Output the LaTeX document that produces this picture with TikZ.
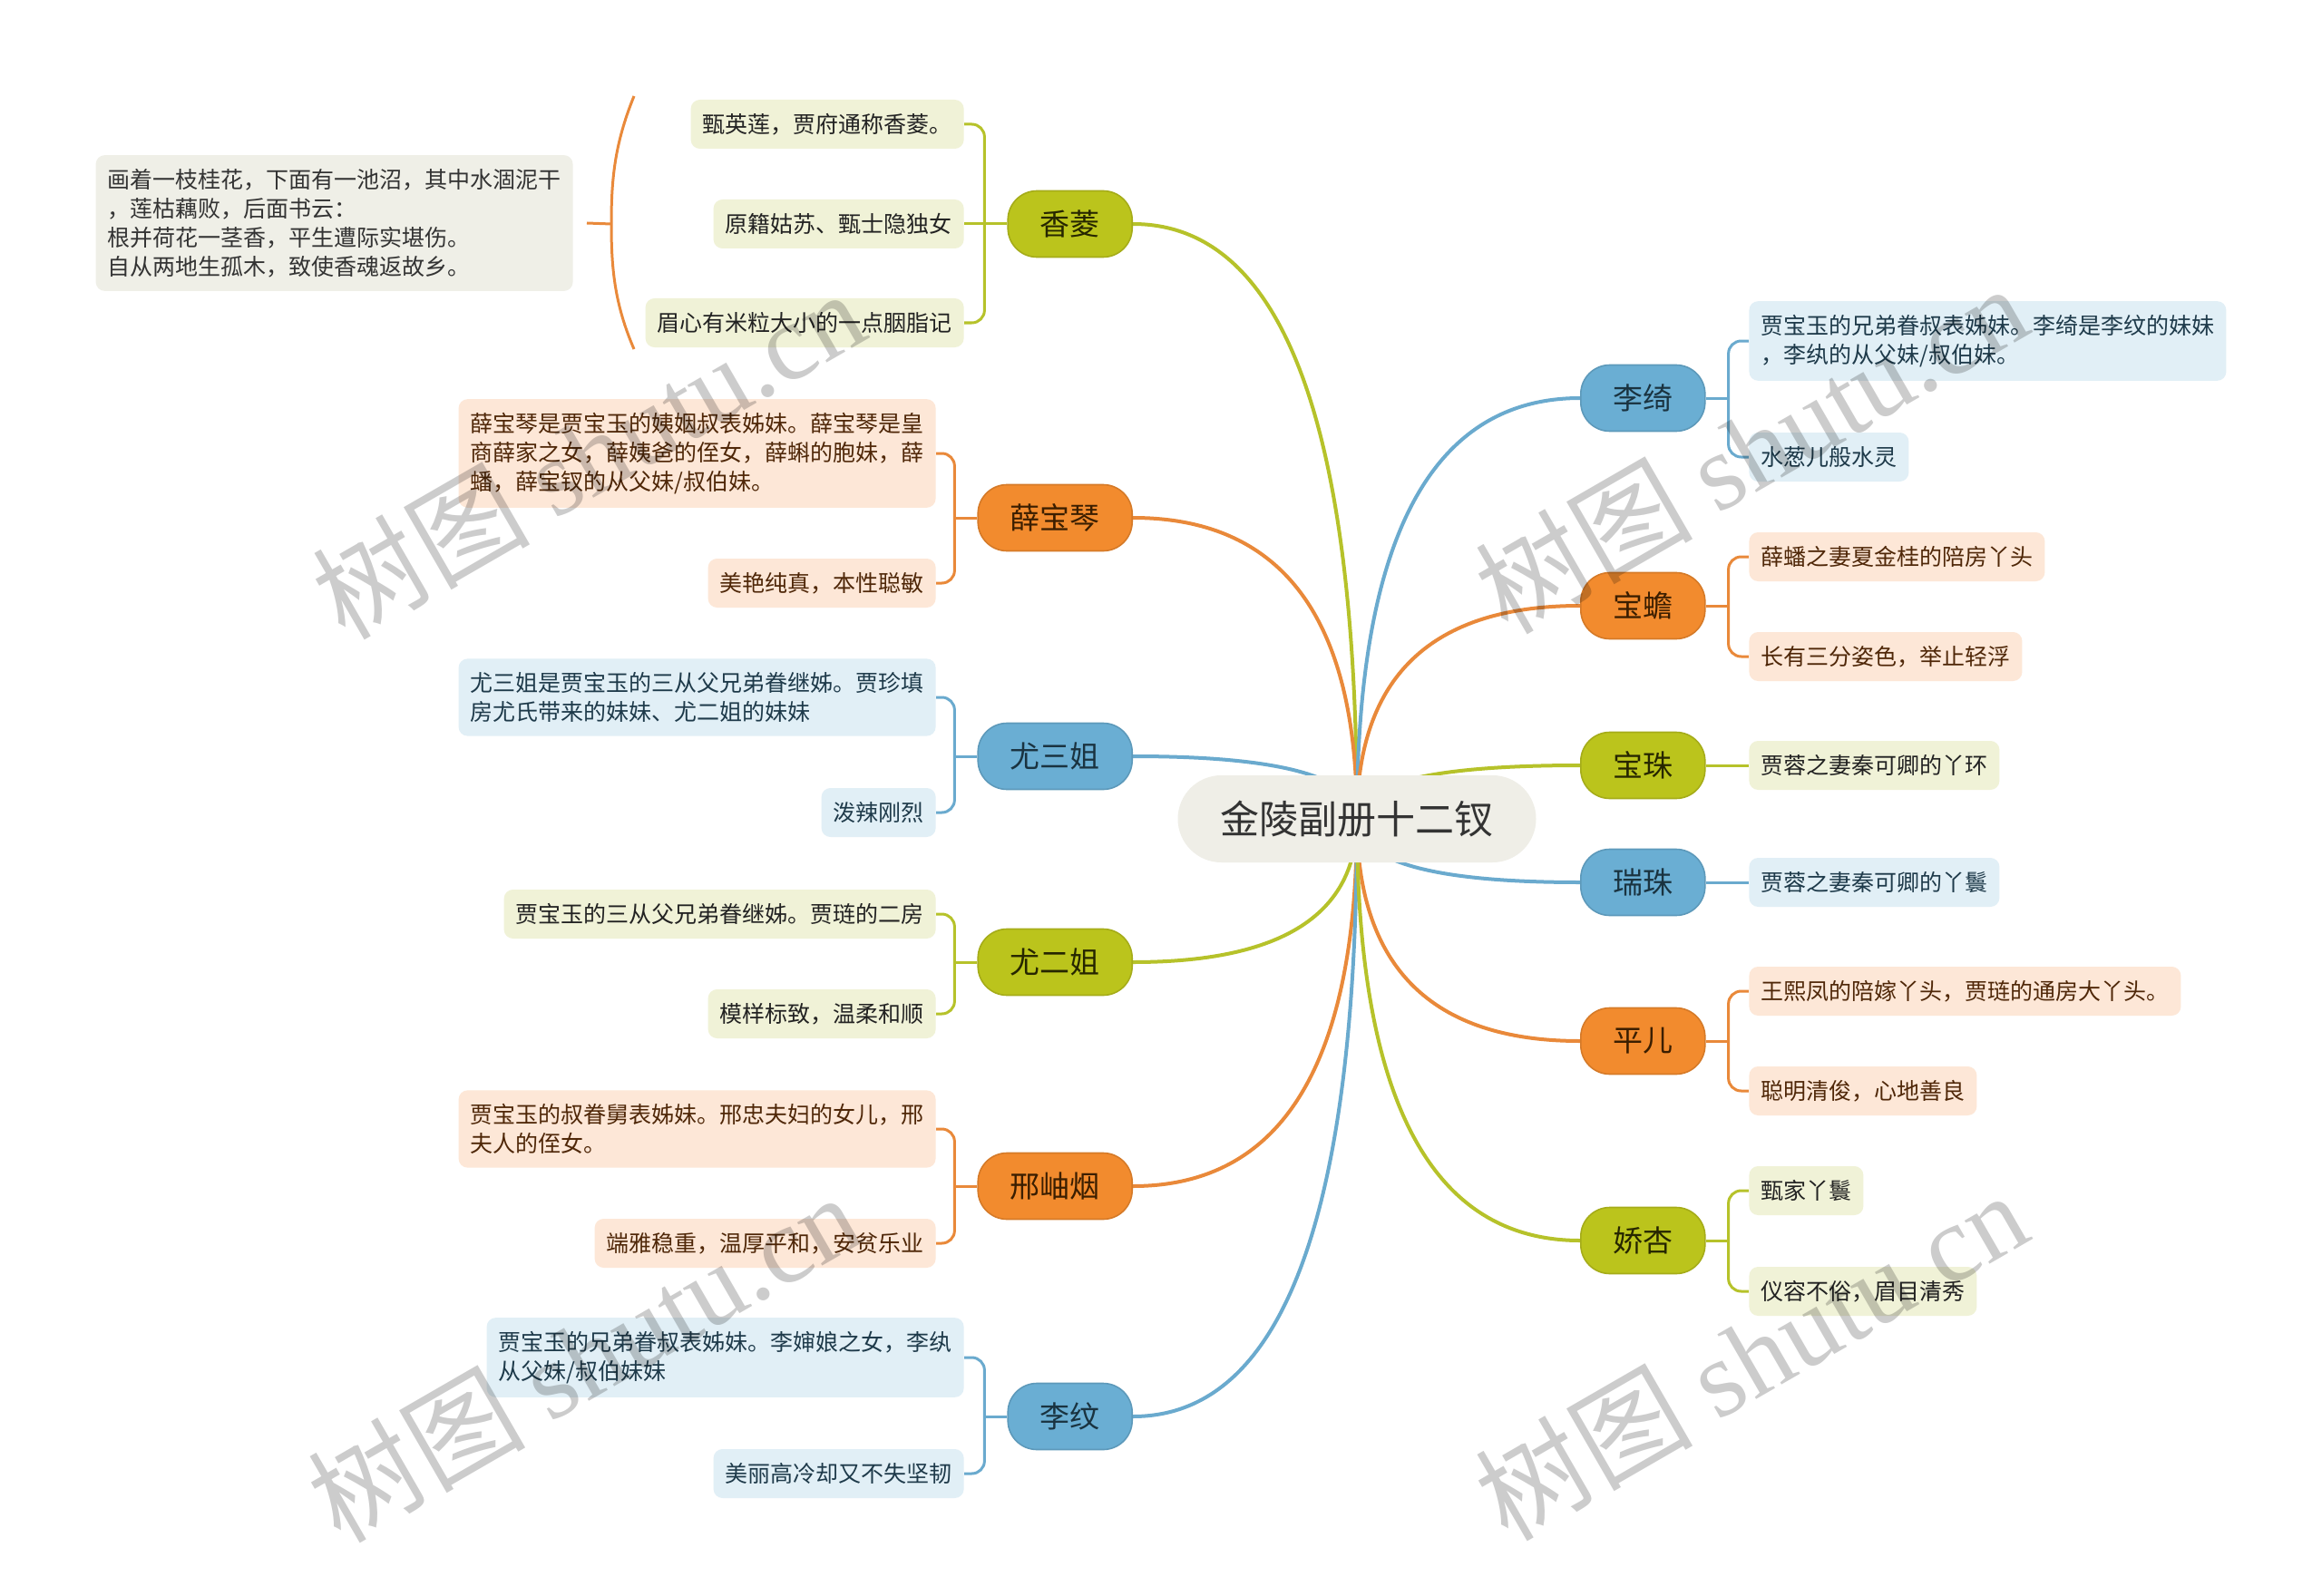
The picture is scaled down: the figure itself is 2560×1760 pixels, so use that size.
\documentclass[tikz,border=0pt]{standalone}
\usepackage{fontspec}
\setmainfont{Noto Sans CJK SC}
\newfontfamily\wmlat{Liberation Serif}
\usetikzlibrary{calc}
\pgfdeclarelayer{bg}
\pgfdeclarelayer{fg}
\pgfsetlayers{bg,main,fg}
\definecolor{gFill}{HTML}{BBC41C}
\definecolor{gLine}{HTML}{B6C22A}
\definecolor{gLeaf}{HTML}{F0F2D7}
\definecolor{gText}{HTML}{262600}
\definecolor{gLeafText}{HTML}{222222}
\definecolor{oFill}{HTML}{F28B2E}
\definecolor{oLine}{HTML}{E9893A}
\definecolor{oLeaf}{HTML}{FDE7D7}
\definecolor{oText}{HTML}{3B1E00}
\definecolor{oLeafText}{HTML}{4F2708}
\definecolor{bFill}{HTML}{6AAED3}
\definecolor{bLine}{HTML}{6AAACE}
\definecolor{bLeaf}{HTML}{E1EFF6}
\definecolor{bText}{HTML}{1A3340}
\definecolor{bLeafText}{HTML}{1E3A4A}
\definecolor{rootFill}{HTML}{EFEEE7}
\definecolor{noteFill}{HTML}{EFEFE7}
\definecolor{darkText}{HTML}{333333}
\tikzset{
 rootnode/.style={rectangle, rounded corners=24pt, fill=rootFill, text=darkText,
   font=\fontsize{21.5}{26}\selectfont, minimum height=48pt, inner xsep=23.5pt, inner ysep=0pt},
 lvone/.style={rectangle, rounded corners=16pt, minimum height=36.5pt, inner xsep=17.75pt,
   inner ysep=0pt, line width=0.8pt, font=\fontsize{16.5}{20}\selectfont},
 gone/.style={lvone, fill=gFill, draw=gFill!88!black, text=gText},
 oone/.style={lvone, fill=oFill, draw=oFill!88!black, text=oText},
 bone/.style={lvone, fill=bFill, draw=bFill!88!black, text=bText},
 leaf/.style={rectangle, rounded corners=5pt, inner xsep=6.5pt, inner ysep=7.5pt,
   minimum height=27pt, align=left, font=\fontsize{12.5}{16}\selectfont},
 gleaf/.style={leaf, fill=gLeaf, text=gLeafText},
 oleaf/.style={leaf, fill=oLeaf, text=oLeafText},
 bleaf/.style={leaf, fill=bLeaf, text=bLeafText},
 notenode/.style={leaf, fill=noteFill, text=darkText},
 mline/.style={line width=2pt},
 lline/.style={line width=1.5pt, rounded corners=7pt},
 wm/.style={text=black, text opacity=0.2, font=\fontsize{60}{64}\selectfont, rotate=30}
}
\newcommand\mybranch[3]{%
  \coordinate (c#2) at (root.center |- #2.#3);
  \draw[mline,#1] (root.center) .. controls ($(root.center)!0.6667!(c#2)$) and ($(#2.#3)!0.6667!(c#2)$) .. (#2.#3);}
\begin{document}
\begin{tikzpicture}[x=0.5pt,y=-0.5pt]
\useasboundingbox (0,0) rectangle (2560,1760);
\begin{pgfonlayer}{bg}
\fill[white] (0,0) rectangle (2560,1760);
\end{pgfonlayer}

% root
\node[rootnode] (root) at (1496,903) {金陵副册十二钗};

% level one, left
\node[gone, anchor=east] (xl) at (1249,247) {香菱};
\node[oone, anchor=east] (bq) at (1249,571) {薛宝琴};
\node[bone, anchor=east] (ys) at (1249,834) {尤三姐};
\node[gone, anchor=east] (ye) at (1249,1061) {尤二姐};
\node[oone, anchor=east] (xx) at (1249,1308) {邢岫烟};
\node[bone, anchor=east] (lw) at (1249,1562) {李纹};
% level one, right
\node[bone, anchor=west] (lq) at (1742,439) {李绮};
\node[oone, anchor=west] (bc) at (1742,668) {宝蟾};
\node[gone, anchor=west] (bz) at (1742,844) {宝珠};
\node[bone, anchor=west] (rz) at (1742,973) {瑞珠};
\node[oone, anchor=west] (pe) at (1742,1148) {平儿};
\node[gone, anchor=west] (jx) at (1742,1368) {娇杏};

% leaves left
\node[gleaf, anchor=east] (xl1) at (1063,137) {甄英莲，贾府通称香菱。};
\node[gleaf, anchor=east] (xl2) at (1063,247) {原籍姑苏、甄士隐独女};
\node[gleaf, anchor=east] (xl3) at (1063,356) {眉心有米粒大小的一点胭脂记};
\node[oleaf, anchor=east] (bq1) at (1032,500) {薛宝琴是贾宝玉的姨姻叔表姊妹。薛宝琴是皇\\商薛家之女，薛姨爸的侄女，薛蝌的胞妹，薛\\蟠，薛宝钗的从父妹/叔伯妹。};
\node[oleaf, anchor=east] (bq2) at (1032,643) {美艳纯真，本性聪敏};
\node[bleaf, anchor=east] (ys1) at (1032,769) {尤三姐是贾宝玉的三从父兄弟眷继姊。贾珍填\\房尤氏带来的妹妹、尤二姐的妹妹};
\node[bleaf, anchor=east] (ys2) at (1032,896) {泼辣刚烈};
\node[gleaf, anchor=east] (ye1) at (1032,1008) {贾宝玉的三从父兄弟眷继姊。贾琏的二房};
\node[gleaf, anchor=east] (ye2) at (1032,1118) {模样标致，温柔和顺};
\node[oleaf, anchor=east] (xx1) at (1032,1245) {贾宝玉的叔眷舅表姊妹。邢忠夫妇的女儿，邢\\夫人的侄女。};
\node[oleaf, anchor=east] (xx2) at (1032,1371) {端雅稳重，温厚平和，安贫乐业};
\node[bleaf, anchor=east] (lw1) at (1063,1497) {贾宝玉的兄弟眷叔表姊妹。李婶娘之女，李纨\\从父妹/叔伯妹妹};
\node[bleaf, anchor=east] (lw2) at (1063,1625) {美丽高冷却又不失坚韧};

% leaves right
\node[bleaf, anchor=west] (lq1) at (1928,376) {贾宝玉的兄弟眷叔表姊妹。李绮是李纹的妹妹\\，李纨的从父妹/叔伯妹。};
\node[bleaf, anchor=west] (lq2) at (1928,504) {水葱儿般水灵};
\node[oleaf, anchor=west] (bc1) at (1928,614) {薛蟠之妻夏金桂的陪房丫头};
\node[oleaf, anchor=west] (bc2) at (1928,724) {长有三分姿色，举止轻浮};
\node[gleaf, anchor=west] (bz1) at (1928,844) {贾蓉之妻秦可卿的丫环};
\node[bleaf, anchor=west] (rz1) at (1928,973) {贾蓉之妻秦可卿的丫鬟};
\node[oleaf, anchor=west] (pe1) at (1928,1093) {王熙凤的陪嫁丫头，贾琏的通房大丫头。};
\node[oleaf, anchor=west] (pe2) at (1928,1203) {聪明清俊，心地善良};
\node[gleaf, anchor=west] (jx1) at (1928,1313) {甄家丫鬟};
\node[gleaf, anchor=west] (jx2) at (1928,1424) {仪容不俗，眉目清秀};

% note (summary of 香菱's details)
\node[notenode, anchor=east] (note) at (632,246) {画着一枝桂花，下面有一池沼，其中水涸泥干\\，莲枯藕败，后面书云：\\根并荷花一茎香，平生遭际实堪伤。\\自从两地生孤木，致使香魂返故乡。};
\coordinate (sumTop) at (699,106);
\coordinate (sumMid) at (674,247);
\coordinate (sumBot) at (699,385);

\begin{pgfonlayer}{bg}
% main branches
\mybranch{gLine}{xl}{east}
\mybranch{oLine}{bq}{east}
\mybranch{bLine}{ys}{east}
\mybranch{gLine}{ye}{east}
\mybranch{oLine}{xx}{east}
\mybranch{bLine}{lw}{east}
\mybranch{bLine}{lq}{west}
\mybranch{oLine}{bc}{west}
\mybranch{gLine}{bz}{west}
\mybranch{bLine}{rz}{west}
\mybranch{oLine}{pe}{west}
\mybranch{gLine}{jx}{west}

% brackets left
\coordinate (xlK) at ([xshift=-12.5pt]xl.west);
\draw[lline,gLine] (xl.west) -- (xl2.east);
\draw[lline,gLine] (xl1.east) -- (xl1.east -| xlK) -- (xl3.east -| xlK) -- (xl3.east);
\coordinate (bqK) at ([xshift=-12.5pt]bq.west);
\draw[lline,oLine] (bq.west) -- (bqK);
\draw[lline,oLine] (bq1.east) -- (bq1.east -| bqK) -- (bq2.east -| bqK) -- (bq2.east);
\coordinate (ysK) at ([xshift=-12.5pt]ys.west);
\draw[lline,bLine] (ys.west) -- (ysK);
\draw[lline,bLine] (ys1.east) -- (ys1.east -| ysK) -- (ys2.east -| ysK) -- (ys2.east);
\coordinate (yeK) at ([xshift=-12.5pt]ye.west);
\draw[lline,gLine] (ye.west) -- (yeK);
\draw[lline,gLine] (ye1.east) -- (ye1.east -| yeK) -- (ye2.east -| yeK) -- (ye2.east);
\coordinate (xxK) at ([xshift=-12.5pt]xx.west);
\draw[lline,oLine] (xx.west) -- (xxK);
\draw[lline,oLine] (xx1.east) -- (xx1.east -| xxK) -- (xx2.east -| xxK) -- (xx2.east);
\coordinate (lwK) at ([xshift=-12.5pt]lw.west);
\draw[lline,bLine] (lw.west) -- (lwK);
\draw[lline,bLine] (lw1.east) -- (lw1.east -| lwK) -- (lw2.east -| lwK) -- (lw2.east);

% brackets right
\coordinate (lqK) at ([xshift=12.5pt]lq.east);
\draw[lline,bLine] (lq.east) -- (lqK);
\draw[lline,bLine] (lq1.west) -- (lq1.west -| lqK) -- (lq2.west -| lqK) -- (lq2.west);
\coordinate (bcK) at ([xshift=12.5pt]bc.east);
\draw[lline,oLine] (bc.east) -- (bcK);
\draw[lline,oLine] (bc1.west) -- (bc1.west -| bcK) -- (bc2.west -| bcK) -- (bc2.west);
\draw[lline,gLine] (bz.east) -- (bz1.west);
\draw[lline,bLine] (rz.east) -- (rz1.west);
\coordinate (peK) at ([xshift=12.5pt]pe.east);
\draw[lline,oLine] (pe.east) -- (peK);
\draw[lline,oLine] (pe1.west) -- (pe1.west -| peK) -- (pe2.west -| peK) -- (pe2.west);
\coordinate (jxK) at ([xshift=12.5pt]jx.east);
\draw[lline,gLine] (jx.east) -- (jxK);
\draw[lline,gLine] (jx1.west) -- (jx1.west -| jxK) -- (jx2.west -| jxK) -- (jx2.west);

% summary bracket
\draw[line width=1.5pt,oLine] (sumTop) .. controls (677,160) and (674,200) .. (sumMid)
   .. controls (674,294) and (677,334) .. (sumBot);
\draw[line width=1.5pt,oLine] ([xshift=7.5pt]note.east) -- (sumMid);
\end{pgfonlayer}

% watermarks
\begin{pgfonlayer}{fg}
\node[wm] (wm1) at (648,500) {树图 {\wmlat shutu.cn}};
\node[wm] (wm2) at (1930,494) {树图 {\wmlat shutu.cn}};
\node[wm] (wm3) at (643,1496) {树图 {\wmlat shutu.cn}};
\node[wm] (wm4) at (1930,1494) {树图 {\wmlat shutu.cn}};
\end{pgfonlayer}
\end{tikzpicture}
\end{document}
